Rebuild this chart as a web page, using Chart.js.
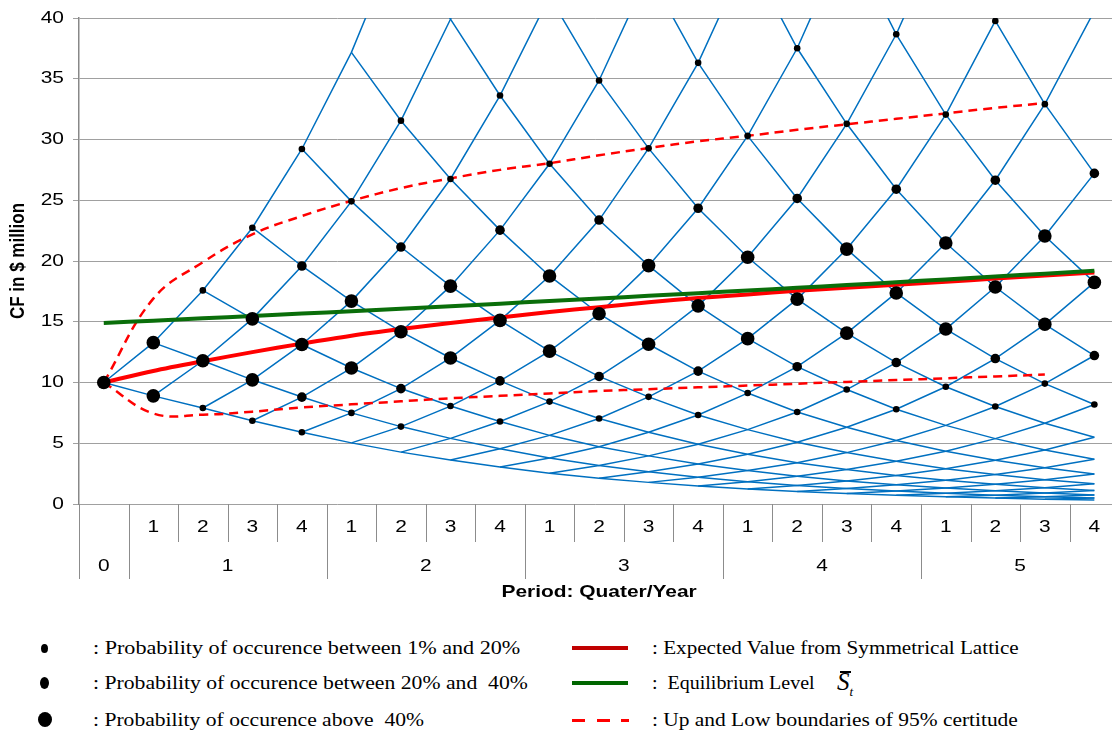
<!DOCTYPE html>
<html>
<head>
<meta charset="utf-8">
<script src="https://cdn.jsdelivr.net/npm/chart.js@4.4.1/dist/chart.umd.min.js"></script>
<style>
  html, body { margin: 0; padding: 0; background: #fff; overflow: hidden; }
  #myChart { position: absolute; left: 0; top: 0; }
  .leg { position: absolute; font-family: "Liberation Serif", "Times New Roman", serif; font-size: 18px; line-height: 20px;
         white-space: pre; color: #000; transform: scaleX(1.2); transform-origin: 0 50%; }
  .dot { position: absolute; background: #000; border-radius: 50%; }
  .bar { position: absolute; height: 4px; }
  .dash { position: absolute; height: 3px; width: 13px; background: #ff0000; }
</style>
</head>
<body>
<canvas id="myChart" width="1119" height="606"></canvas>

<div id="legend">
  <div class="dot" style="left:41px;top:644px;width:7px;height:9px"></div>
  <div class="dot" style="left:40px;top:677px;width:9px;height:12px"></div>
  <div class="dot" style="left:38px;top:712px;width:14px;height:15px"></div>
  <div class="leg" style="left:93px;top:638px;transform:scaleX(1.23)">: Probability of occurence between 1% and 20%</div>
  <div class="leg" style="left:93px;top:673px;transform:scaleX(1.205)">: Probability of occurence between 20% and  40%</div>
  <div class="leg" style="left:93px;top:710px">: Probability of occurence above  40%</div>

  <div class="bar" style="left:572px;top:646px;width:56px;background:#c00000"></div>
  <div class="bar" style="left:572px;top:681px;width:56px;background:#006600"></div>
  <div class="dash" style="left:572px;top:719px"></div>
  <div class="dash" style="left:597px;top:719px"></div>
  <div class="dash" style="left:621px;top:719px;width:8px"></div>
  <div class="leg" style="left:652px;top:638px;transform:scaleX(1.175)">: Expected Value from Symmetrical Lattice</div>
  <div class="leg" style="left:652px;top:673px;transform:scaleX(1.11)">:  Equilibrium Level</div>
  <div style="position:absolute;left:837px;top:669px;font-family:'Liberation Serif',serif;font-style:italic;font-size:25px;line-height:26px">S<span style="font-size:13px;position:relative;top:6px">t</span></div>
  <div style="position:absolute;left:840px;top:671px;width:11px;height:1.5px;background:#000"></div>
  <div class="leg" style="left:652px;top:710px;transform:scaleX(1.19)">: Up and Low boundaries of 95% certitude</div>
</div>

<script>
var quarterLabels = ['1', '2', '3', '4'];
var yearLabels = ['0', '1', '2', '3', '4', '5'];

// lattice nodes for each period (quarter 0..20), lowest node first,
// kept up to the first node that leaves the chart above 40
var lattice = [
    [10],
    [8.9, 13.28],
    [7.9, 11.79, 17.58],
    [6.85, 10.22, 15.24, 22.74],
    [5.9, 8.8, 13.13, 19.59, 29.22],
    [5.03, 7.5, 11.19, 16.7, 24.91, 37.17],
    [4.27, 6.37, 9.5, 14.18, 21.15, 31.55, 47.07],
    [3.62, 5.4, 8.06, 12.02, 17.93, 26.75, 39.9, 59.53],
    [3.05, 4.55, 6.79, 10.13, 15.11, 22.54, 33.62, 50.16],
    [2.54, 3.79, 5.65, 8.43, 12.58, 18.77, 28.0, 41.77],
    [2.12, 3.16, 4.72, 7.04, 10.5, 15.66, 23.37, 34.86, 52.01],
    [1.78, 2.66, 3.96, 5.91, 8.82, 13.15, 19.62, 29.27, 43.67],
    [1.48, 2.21, 3.29, 4.91, 7.33, 10.94, 16.31, 24.34, 36.31, 54.17],
    [1.235, 1.84, 2.75, 4.1, 6.12, 9.13, 13.61, 20.31, 30.3, 45.2],
    [1.025, 1.53, 2.28, 3.4, 5.08, 7.57, 11.3, 16.86, 25.15, 37.51, 55.96],
    [0.855, 1.28, 1.9, 2.84, 4.23, 6.32, 9.42, 14.06, 20.98, 31.29, 46.68],
    [0.71, 1.06, 1.58, 2.35, 3.51, 5.23, 7.8, 11.64, 17.37, 25.91, 38.66, 57.67],
    [0.59, 0.88, 1.31, 1.95, 2.91, 4.34, 6.47, 9.65, 14.4, 21.48, 32.05, 47.81],
    [0.49, 0.73, 1.09, 1.62, 2.42, 3.61, 5.38, 8.03, 11.97, 17.86, 26.65, 39.76, 59.32],
    [0.4, 0.6, 0.9, 1.34, 2.0, 2.99, 4.45, 6.64, 9.91, 14.79, 22.06, 32.91, 49.09],
    [0.33, 0.5, 0.74, 1.11, 1.66, 2.47, 3.68, 5.49, 8.19, 12.22, 18.24, 27.21, 40.59]
];

// marker on each node: 0 none, 1 = 1-20%, 2 = 20-40%, 3 = above 40%
var dotClass = [
    [3],
    [3, 3],
    [1, 3, 1],
    [1, 3, 3, 1],
    [1, 2, 3, 2, 1],
    [0, 1, 3, 3, 1, 0],
    [0, 1, 2, 3, 2, 1, 0],
    [0, 0, 1, 3, 3, 1, 0, 0],
    [0, 0, 1, 2, 3, 2, 1, 0],
    [0, 0, 0, 1, 3, 3, 1, 0],
    [0, 0, 0, 1, 2, 3, 2, 1, 0],
    [0, 0, 0, 0, 1, 3, 3, 1, 0],
    [0, 0, 0, 0, 1, 2, 3, 2, 1, 0],
    [0, 0, 0, 0, 0, 1, 3, 3, 1, 0],
    [0, 0, 0, 0, 0, 1, 2, 3, 2, 1, 0],
    [0, 0, 0, 0, 0, 0, 1, 3, 3, 1, 0],
    [0, 0, 0, 0, 0, 0, 1, 2, 3, 2, 1, 0],
    [0, 0, 0, 0, 0, 0, 0, 1, 3, 3, 1, 0],
    [0, 0, 0, 0, 0, 0, 0, 1, 2, 3, 2, 1, 0],
    [0, 0, 0, 0, 0, 0, 0, 0, 1, 3, 3, 1, 0],
    [0, 0, 0, 0, 0, 0, 0, 0, 1, 2, 3, 2, 1]
];

var expectedValue = [10, 10.95, 11.75, 12.5, 13.2, 13.85, 14.4, 14.9, 15.35, 15.8, 16.2,
    16.6, 16.95, 17.25, 17.55, 17.8, 18.05, 18.3, 18.55, 18.8, 19.05];
var equilibrium = [14.9, 15.09, 15.28, 15.48, 15.67, 15.87, 16.08, 16.28, 16.49, 16.7, 16.91,
    17.13, 17.35, 17.57, 17.79, 18.02, 18.25, 18.48, 18.72, 18.96, 19.2];
var upperBound = [10, 16.9, 19.9, 22.2, 23.7, 24.95, 26.0, 26.8, 27.5, 28.05, 28.7,
    29.3, 29.85, 30.3, 30.8, 31.25, 31.7, 32.15, 32.6, 33.0];
var lowerBound = [10, 7.45, 7.35, 7.6, 7.95, 8.2, 8.45, 8.7, 8.9, 9.1, 9.3,
    9.45, 9.6, 9.75, 9.9, 10.05, 10.2, 10.35, 10.5, 10.65];

// the picture is cut just before the end of the last quarter
var xMin = -0.5, xMax = 20.36;

var STRETCH = 1.23;
var axisFont = '17px "Liberation Sans", Arial, sans-serif';
var titleFont = 'bold 17px "Liberation Sans", Arial, sans-serif';

function toPoints(arr) {
    return arr.map(function (v, i) { return {x: i, y: v}; });
}

function stretchedText(c, text, x, y, align, vertical) {
    c.save();
    c.translate(x, y);
    c.scale(STRETCH, 1);
    if (vertical) c.rotate(-Math.PI / 2);
    c.textAlign = align;
    c.textBaseline = 'middle';
    c.fillText(text, 0, 0);
    c.restore();
}

// blue lattice: one polyline per "down" index and one per "up" diagonal
var latticeSets = [];
for (var k = 0; k < lattice.length; k++) {
    var down = [], up = [];
    for (var t = k; t < lattice.length; t++) {
        if (lattice[t].length > k) down.push({x: t, y: lattice[t][k]});
    }
    for (var t = k; t < lattice.length && t - k < lattice[t].length; t++) {
        up.push({x: t, y: lattice[t][t - k]});
    }
    [down, up].forEach(function (pts) {
        if (pts.length > 1) {
            latticeSets.push({
                data: pts,
                borderColor: '#0070c0',
                borderWidth: 1.5,
                pointRadius: 0,
                tension: 0
            });
        }
    });
}

var dotPoints = [[], [], [], []];
lattice.forEach(function (row, t) {
    row.forEach(function (v, i) {
        var c = dotClass[t][i];
        if (c) dotPoints[c].push({x: t, y: v});
    });
});
var dotRadius = [0, 3.3, 4.8, 6.8];
var dotSets = [3, 2, 1].map(function (c) {
    return {
        data: dotPoints[c],
        showLine: false,
        pointRadius: dotRadius[c],
        pointBackgroundColor: '#000',
        pointBorderWidth: 0
    };
});

var axisPlugin = {
    id: 'axisText',
    afterDraw: function (chart) {
        var c = chart.ctx, xs = chart.scales.x, ys = chart.scales.y, area = chart.chartArea;
        c.save();
        c.fillStyle = '#000';
        c.font = axisFont;
        ys.ticks.forEach(function (tk) {
            stretchedText(c, String(tk.value), area.left - 15, ys.getPixelForValue(tk.value), 'right');
        });

        // separators of the two-level category axis
        c.strokeStyle = '#8c8c8c';
        c.lineWidth = 1;
        for (var t = -1; t <= 20; t++) {
            var x = Math.round(xs.getPixelForValue(t + 0.5)) + 0.5;
            var long = t === -1 || t % 4 === 0;
            c.beginPath();
            c.moveTo(x, area.bottom);
            c.lineTo(x, area.bottom + (long ? 75 : 38));
            c.stroke();
        }
        for (var t = 1; t <= 20; t++) {
            stretchedText(c, quarterLabels[(t - 1) % 4], xs.getPixelForValue(t), area.bottom + 23, 'center');
        }
        yearLabels.forEach(function (lab, i) {
            var v = i === 0 ? 0 : 4 * i - 1.5;
            stretchedText(c, lab, xs.getPixelForValue(v), area.bottom + 62, 'center');
        });

        c.font = titleFont;
        stretchedText(c, 'Period: Quater/Year', xs.getPixelForValue(10), area.bottom + 88, 'center');
        stretchedText(c, 'CF in $ million', 18, (area.top + area.bottom) / 2, 'center', true);
        c.restore();
    }
};

var ctx = document.getElementById('myChart').getContext('2d');
var myChart = new Chart(ctx, {
    type: 'line',
    data: {
        datasets: dotSets.concat([
            {
                data: toPoints(equilibrium),
                borderColor: '#0a6e0a',
                borderWidth: 4,
                pointRadius: 0,
                tension: 0.2
            },
            {
                data: toPoints(expectedValue),
                borderColor: '#ff0000',
                borderWidth: 4,
                pointRadius: 0,
                tension: 0.3
            },
            {
                data: toPoints(upperBound),
                borderColor: '#ff0000',
                borderWidth: 2.5,
                borderDash: [9, 6],
                pointRadius: 0,
                tension: 0.4
            },
            {
                data: toPoints(lowerBound),
                borderColor: '#ff0000',
                borderWidth: 2.5,
                borderDash: [9, 6],
                pointRadius: 0,
                tension: 0.4
            }
        ], latticeSets)
    },
    options: {
        responsive: false,
        animation: false,
        layout: {
            padding: {top: 18, left: 0, right: 0, bottom: 0}
        },
        plugins: {
            legend: {display: false},
            tooltip: {enabled: false}
        },
        scales: {
            x: {
                type: 'linear',
                min: xMin,
                max: xMax,
                grid: {display: false},
                border: {display: false},
                ticks: {display: false},
                afterFit: function (s) { s.height = 102; }
            },
            y: {
                min: 0,
                max: 40,
                ticks: {stepSize: 5, display: false},
                grid: {color: '#a0a0a0', tickLength: 6},
                border: {color: '#888', width: 1.5},
                afterFit: function (s) { s.width = 79; }
            }
        }
    },
    plugins: [axisPlugin]
});
</script>
</body>
</html>
